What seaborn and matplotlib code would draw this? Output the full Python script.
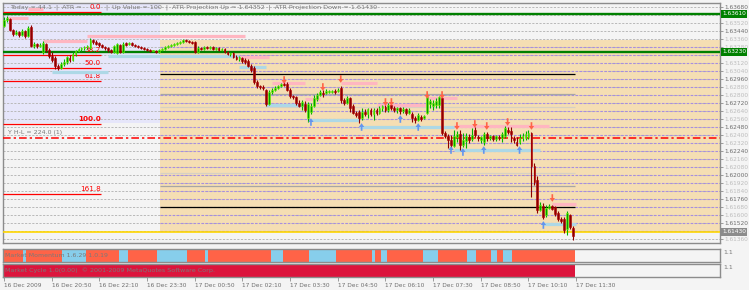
import numpy as np
import pandas as pd
import matplotlib
matplotlib.use("Agg")
import matplotlib.pyplot as plt
from matplotlib.path import Path
from matplotlib import transforms
import seaborn as sns

# ---------------- data (GBPUSD-like M5 candles) ----------------
O = [1.6349,1.6355,1.6356,1.6345,1.6341,1.6343,1.6340,1.6344,1.6339,1.6348,
     1.6329,1.6331,1.6329,1.6323,1.6331,1.6325,1.6319,1.6317,1.6309,1.6307,
     1.6311,1.6313,1.6317,1.6315,1.6321,1.6324,1.6326,1.6327,1.6328,1.6327,
     1.6335,1.6333,1.6332,1.6330,1.6328,1.6327,1.6325,1.6323,1.6322,1.6330,
     1.6323,1.6332,1.6331,1.6332,1.6330,1.6329,1.6328,1.6327,1.6326,1.6325,
     1.6324,1.6324,1.6323,1.6325,1.6326,1.6328,1.6329,1.6330,1.6331,1.6332,
     1.6333,1.6335,1.6334,1.6333,1.6333,1.6323,1.6327,1.6326,1.6328,1.6327,
     1.6328,1.6326,1.6327,1.6325,1.6326,1.6323,1.6321,1.6322,1.6318,1.6316,
     1.6317,1.6315,1.6314,1.6309,1.6307,1.6293,1.6289,1.6288,1.6285,1.6271,
     1.6283,1.6285,1.6287,1.6289,1.6291,1.6291,1.6285,1.6279,1.6278,1.6272,
     1.6269,1.6271,1.6257,1.6263,1.6269,1.6276,1.6280,1.6282,1.6282,1.6283,
     1.6283,1.6284,1.6284,1.6287,1.6275,1.6272,1.6277,1.6269,1.6262,1.6263,
     1.6257,1.6263,1.6261,1.6265,1.6261,1.6265,1.6262,1.6267,1.6268,1.6265,
     1.6270,1.6267,1.6265,1.6267,1.6264,1.6266,1.6262,1.6261,1.6257,1.6255,
     1.6258,1.6257,1.6262,1.6271,1.6269,1.6270,1.6270,1.6277,1.6242,1.6239,
     1.6235,1.6229,1.6238,1.6241,1.6230,1.6234,1.6238,1.6236,1.6245,1.6238,
     1.6235,1.6233,1.6241,1.6237,1.6239,1.6236,1.6238,1.6237,1.6239,1.6245,
     1.6244,1.6237,1.6233,1.6233,1.6237,1.6237,1.6238,1.6242,1.6209,1.6195,
     1.6165,1.6169,1.6160,1.6167,1.6169,1.6168,1.6162,1.6156,1.6156,1.6146,
     1.6160,1.6147]
C = [1.6355,1.6357,1.6345,1.6341,1.6343,1.6340,1.6344,1.6339,1.6347,1.6329,
     1.6331,1.6329,1.6330,1.6332,1.6325,1.6319,1.6315,1.6309,1.6307,1.6311,
     1.6313,1.6318,1.6315,1.6321,1.6324,1.6326,1.6327,1.6328,1.6329,1.6335,
     1.6333,1.6331,1.6330,1.6328,1.6327,1.6325,1.6323,1.6329,1.6331,1.6323,
     1.6331,1.6330,1.6332,1.6330,1.6329,1.6328,1.6327,1.6326,1.6325,1.6324,
     1.6324,1.6323,1.6325,1.6326,1.6328,1.6329,1.6330,1.6331,1.6332,1.6333,
     1.6335,1.6334,1.6333,1.6332,1.6323,1.6327,1.6326,1.6328,1.6327,1.6328,
     1.6326,1.6327,1.6325,1.6326,1.6323,1.6321,1.6322,1.6318,1.6316,1.6318,
     1.6314,1.6313,1.6309,1.6305,1.6293,1.6289,1.6288,1.6287,1.6271,1.6283,
     1.6285,1.6287,1.6289,1.6291,1.6290,1.6285,1.6279,1.6278,1.6272,1.6269,
     1.6273,1.6265,1.6271,1.6269,1.6277,1.6280,1.6283,1.6281,1.6284,1.6283,
     1.6284,1.6283,1.6285,1.6275,1.6272,1.6277,1.6267,1.6262,1.6260,1.6257,
     1.6263,1.6261,1.6266,1.6261,1.6265,1.6262,1.6267,1.6269,1.6265,1.6270,
     1.6267,1.6265,1.6267,1.6264,1.6266,1.6262,1.6265,1.6257,1.6255,1.6260,
     1.6256,1.6259,1.6278,1.6274,1.6272,1.6274,1.6278,1.6242,1.6239,1.6235,
     1.6230,1.6239,1.6241,1.6230,1.6235,1.6239,1.6235,1.6240,1.6240,1.6237,
     1.6238,1.6241,1.6237,1.6239,1.6236,1.6239,1.6237,1.6241,1.6247,1.6243,
     1.6241,1.6235,1.6230,1.6237,1.6239,1.6241,1.6242,1.6209,1.6193,1.6165,
     1.6170,1.6158,1.6167,1.6169,1.6166,1.6161,1.6156,1.6154,1.6145,1.6162,
     1.6148,1.6139]
H = [1.6358,1.6359,1.6357,1.6346,1.6345,1.6344,1.6346,1.6345,1.6349,1.6350,
     1.6333,1.6332,1.6332,1.6334,1.6332,1.6327,1.6323,1.6319,1.6311,1.6313,
     1.6316,1.6319,1.6320,1.6323,1.6325,1.6327,1.6328,1.6329,1.6330,1.6337,
     1.6336,1.6335,1.6333,1.6331,1.6329,1.6328,1.6326,1.6330,1.6332,1.6331,
     1.6333,1.6333,1.6333,1.6333,1.6331,1.6330,1.6329,1.6328,1.6327,1.6326,
     1.6325,1.6325,1.6326,1.6327,1.6329,1.6330,1.6331,1.6332,1.6333,1.6334,
     1.6336,1.6336,1.6335,1.6334,1.6334,1.6329,1.6328,1.6329,1.6329,1.6329,
     1.6329,1.6328,1.6328,1.6327,1.6327,1.6324,1.6323,1.6323,1.6320,1.6319,
     1.6318,1.6317,1.6316,1.6311,1.6309,1.6295,1.6290,1.6290,1.6286,1.6285,
     1.6287,1.6289,1.6290,1.6292,1.6293,1.6293,1.6287,1.6280,1.6279,1.6275,
     1.6275,1.6274,1.6273,1.6272,1.6280,1.6282,1.6285,1.6285,1.6286,1.6285,
     1.6285,1.6286,1.6287,1.6289,1.6277,1.6279,1.6278,1.6271,1.6264,1.6265,
     1.6267,1.6266,1.6267,1.6267,1.6267,1.6267,1.6269,1.6270,1.6270,1.6272,
     1.6271,1.6269,1.6268,1.6268,1.6268,1.6267,1.6267,1.6263,1.6259,1.6262,
     1.6260,1.6260,1.6282,1.6276,1.6275,1.6277,1.6279,1.6278,1.6244,1.6241,
     1.6240,1.6245,1.6244,1.6245,1.6242,1.6242,1.6241,1.6247,1.6248,1.6240,
     1.6239,1.6243,1.6243,1.6240,1.6240,1.6240,1.6240,1.6243,1.6249,1.6248,
     1.6248,1.6239,1.6238,1.6241,1.6242,1.6244,1.6245,1.6243,1.6212,1.6199,
     1.6173,1.6172,1.6170,1.6171,1.6170,1.6169,1.6164,1.6158,1.6158,1.6164,
     1.6161,1.6149]
L = [1.6348,1.6353,1.6344,1.6339,1.6340,1.6338,1.6339,1.6337,1.6338,1.6328,
     1.6327,1.6327,1.6328,1.6321,1.6323,1.6317,1.6313,1.6306,1.6305,1.6306,
     1.6309,1.6311,1.6313,1.6314,1.6319,1.6323,1.6324,1.6325,1.6326,1.6326,
     1.6331,1.6330,1.6328,1.6327,1.6325,1.6323,1.6322,1.6322,1.6321,1.6322,
     1.6322,1.6329,1.6330,1.6329,1.6328,1.6327,1.6326,1.6325,1.6324,1.6323,
     1.6323,1.6322,1.6322,1.6324,1.6325,1.6327,1.6328,1.6329,1.6330,1.6331,
     1.6332,1.6333,1.6332,1.6331,1.6322,1.6322,1.6325,1.6325,1.6326,1.6326,
     1.6325,1.6325,1.6324,1.6324,1.6322,1.6320,1.6319,1.6317,1.6315,1.6314,
     1.6312,1.6311,1.6308,1.6303,1.6291,1.6287,1.6286,1.6285,1.6269,1.6270,
     1.6281,1.6284,1.6286,1.6288,1.6289,1.6284,1.6277,1.6276,1.6270,1.6268,
     1.6265,1.6263,1.6253,1.6261,1.6268,1.6274,1.6279,1.6278,1.6281,1.6282,
     1.6282,1.6281,1.6283,1.6272,1.6270,1.6271,1.6263,1.6261,1.6258,1.6252,
     1.6255,1.6259,1.6257,1.6259,1.6255,1.6260,1.6261,1.6264,1.6263,1.6263,
     1.6265,1.6263,1.6262,1.6261,1.6262,1.6260,1.6261,1.6253,1.6252,1.6254,
     1.6254,1.6256,1.6261,1.6267,1.6265,1.6267,1.6267,1.6240,1.6237,1.6227,
     1.6227,1.6228,1.6233,1.6225,1.6228,1.6227,1.6232,1.6234,1.6238,1.6234,
     1.6232,1.6230,1.6234,1.6235,1.6234,1.6234,1.6235,1.6233,1.6237,1.6241,
     1.6233,1.6232,1.6229,1.6231,1.6234,1.6235,1.6236,1.6178,1.6190,1.6162,
     1.6164,1.6156,1.6158,1.6166,1.6165,1.6159,1.6154,1.6152,1.6142,1.6140,
     1.6146,1.6135]

# time axis
tick_bars = [0, 16, 32, 48, 64, 80, 96, 112, 128, 144, 160, 176, 192]
tick_labels = ["16 Dec 2009", "16 Dec 20:50", "16 Dec 22:10", "16 Dec 23:30",
               "17 Dec 00:50", "17 Dec 02:10", "17 Dec 03:30", "17 Dec 04:50",
               "17 Dec 06:10", "17 Dec 07:30", "17 Dec 08:50", "17 Dec 10:10",
               "17 Dec 11:30"]

# horizontal levels
green_levels = [1.6361, 1.6323]
black_levels = [1.6301, 1.6168]
gray_levels = [1.6281, 1.6189]
light_levels = [1.6268, 1.6202]
yesterday_close = 1.6237
atr_down = 1.6143
atr_up_box = 1.6335
asia_low = 1.6252
session_start = 52.5

fib_prices = [1.6363, 1.6320, 1.6307, 1.6294, 1.6251, 1.6181]
fib_labels = ["0.0", "38.2", "50.0", "61.8", "100.0", "161.8"]

# resistance (pink) and support (light blue) zones: start bar, end bar, price
res_start = [1, 8, 13, 28, 79, 90, 101, 113, 125, 142, 151, 184]
res_end = [8, 13, 28, 81, 89, 101, 106, 125, 142, 152, 183, 192]
res_price = [1.6357, 1.6366, 1.6334, 1.6339, 1.6318, 1.6292, 1.6276, 1.6292,
             1.6270, 1.6277, 1.6249, 1.6171]
sup_start = [16, 35, 79, 88, 103, 119, 151, 181]
sup_end = [35, 79, 88, 101, 119, 151, 180, 192]
sup_price = [1.6303, 1.6319, 1.6308, 1.6270, 1.6255, 1.6248, 1.6225, 1.6151]

# fractal arrows
dn_idx = [94, 107, 113, 128, 130, 142, 147, 152, 158, 162, 169, 177, 184]
dn_price = [1.6295, 1.6288, 1.6296, 1.6273, 1.6273, 1.6280, 1.6280, 1.6249,
            1.6251, 1.6249, 1.6253, 1.6249, 1.6177]
up_idx = [103, 120, 133, 139, 150, 154, 161, 173, 181]
up_price = [1.6253, 1.6248, 1.6256, 1.6248, 1.6225, 1.6223, 1.6225, 1.6225, 1.6150]

# market momentum runs
mom_lengths = [7, 1, 12, 8, 11, 3, 10, 10, 6, 1, 21, 4, 9, 9, 12, 1, 2, 2, 12,
               5, 10, 3, 5, 2, 2, 3, 21]
mom_states = ["dn", "up"] * 13 + ["dn"]

# header texts
header_left = "Today = 44.1  |  ATR ="
header_right = "|  Up Value = 100  |  ATR Projection Up = 1.64352  |  ATR Projection Down = 1.61430"

# ---------------- style ----------------
sns.set_theme(style="white")
plt.rcParams['font.family'] = ['DejaVu Sans']
BG = '#f4f4f4'
GRAYTXT = '#7a7a7a'
FRAME = '#8c8c8c'

fig = plt.figure(figsize=(7.49, 2.90), dpi=100, facecolor=BG)
FW, FH = 749, 290


def rect(x0, y0, x1, y1):
    return [x0 / FW, 1 - y1 / FH, (x1 - x0) / FW, (y1 - y0) / FH]


ax = fig.add_axes(rect(3, 3, 720, 243))
ax2 = fig.add_axes(rect(3, 249, 720, 262))
ax3 = fig.add_axes(rect(3, 264, 720, 277))
X0, X1 = -0.34, 240.27
for a in (ax, ax2, ax3):
    a.set_xlim(X0, X1)
    a.set_facecolor(BG)
    for s in a.spines.values():
        s.set_color(FRAME)
        s.set_linewidth(1.0)
ax.set_ylim(1.6132, 1.6372)

# background zones
ax.fill_between([X0, session_start], asia_low, 1.6372, color='#e6e6fa', lw=0, zorder=0)
ax.fill_between([session_start, X1], atr_down, atr_up_box, color='#f5deb3', lw=0, zorder=0)

# dashed grid
grid = 1.6368 - 0.0008 * np.arange(30)
dash = (0, (2.2, 1.5))
for g in grid:
    ax.hlines(g, X0, X1, color='#b9b9b9', ls=dash, lw=0.7, zorder=1)
    if atr_down - 1e-6 <= g <= atr_up_box + 1e-6:
        ax.hlines(g, session_start, X1, color='#a88de0', ls=dash, lw=0.8, zorder=1)

# level lines
for p in green_levels:
    ax.hlines(p, X0, X1, color='#008000', lw=1.7, zorder=3)
for p in black_levels:
    ax.hlines(p, session_start, 191.5, color='#000000', lw=0.9, zorder=3)
for p in gray_levels:
    ax.hlines(p, session_start, 191.5, color='#a6a6a6', lw=0.9, zorder=2)
for p in light_levels:
    ax.hlines(p, session_start, 191.5, color='#d6d0c4', lw=0.9, zorder=2)
ax.hlines(yesterday_close, X0, X1, color='#ff0000', lw=1.1, ls=(0, (5, 2, 1.5, 2)), zorder=3)
ax.hlines(atr_down, X0, X1, color='#ffd700', lw=1.2, zorder=3)

# fibonacci
for p, lab in zip(fib_prices, fib_labels):
    ax.hlines(p, X0, 32.5, color='#ff0000', lw=0.9, zorder=3)
    ax.text(32.5, p + 0.00015, lab, color='#ff0000', fontsize=5.2, ha='right',
            va='bottom', zorder=4, fontweight='bold' if lab == "100.0" else 'normal')

# zones
for s, e, p in zip(res_start, res_end, res_price):
    ax.hlines(p, s, e, color='#ffb6c1', lw=2.3, zorder=4)
for s, e, p in zip(sup_start, sup_end, sup_price):
    ax.hlines(p, s, e, color='#add8e6', lw=2.3, zorder=4)

# candles
df = pd.DataFrame(dict(o=O, h=H, l=L, c=C))
df['i'] = np.arange(len(df))
bull = (df.c >= df.o).values
ax.vlines(df.i, df.l, df.h, colors=np.where(bull, '#00b000', '#8b0000'), lw=0.8, zorder=5)
body_bot = np.minimum(df.o, df.c)
body_h = np.maximum((df.c - df.o).abs(), 0.00008)
ax.bar(df.i, body_h, bottom=body_bot, width=0.62,
       color=np.where(bull, '#00a000', '#8b0000'),
       edgecolor=np.where(bull, '#7cfc00', '#b40000'), lw=0.4, zorder=6)

# arrows
codes = [Path.MOVETO] + [Path.LINETO] * 6 + [Path.CLOSEPOLY]
dn_verts = [(-0.22, 1.0), (0.22, 1.0), (0.22, 0.0), (0.7, 0.0), (0, -1.0),
            (-0.7, 0.0), (-0.22, 0.0), (-0.22, 1.0)]
up_verts = [(x, -y) for x, y in dn_verts]
sns.scatterplot(x=dn_idx, y=dn_price, marker=Path(dn_verts, codes), s=30,
                color='#ff6347', linewidth=0, edgecolor='none', ax=ax, zorder=8, legend=False)
sns.scatterplot(x=up_idx, y=up_price, marker=Path(up_verts, codes), s=30,
                color='#6495ed', linewidth=0, edgecolor='none', ax=ax, zorder=8, legend=False)

# texts
ax.text(0.0098, 0.983, header_left, transform=ax.transAxes, fontsize=4.6,
        color=GRAYTXT, va='center', ha='left', zorder=9)
ax.text((106 - 3) / 717, 0.983, header_right, transform=ax.transAxes, fontsize=4.6,
        color=GRAYTXT, va='center', ha='left', zorder=9)
ax.text(1.3, yesterday_close + 0.00025, "Y H-L = 224.0 (1)", fontsize=4.5,
        color=GRAYTXT, va='bottom', ha='left', zorder=9)

# right price axis
ax.yaxis.tick_right()
highlight = green_levels + [atr_down]
keep = [g for g in grid if min(abs(g - h) for h in highlight) > 0.00045]
ax.set_yticks(keep)
ax.set_yticklabels([f"{g:.5f}" for g in keep])
for g, t in zip(keep, ax.get_yticklabels()):
    k = int(round((1.6368 - g) / 0.0008))
    t.set_color('#6e6e6e' if k % 3 == 0 else '#bdbdbd')
ax.tick_params(axis='y', length=2, width=0.6, color=FRAME, labelsize=4.2, pad=1)
ax.tick_params(axis='x', bottom=False, labelbottom=False)
trans = transforms.blended_transform_factory(ax.transAxes, ax.transData)
for p in green_levels:
    ax.text(1.003, p, f"{p:.5f}", transform=trans, color='white', fontsize=4.2,
            va='center', ha='left', clip_on=False, zorder=10,
            bbox=dict(facecolor='#008000', edgecolor='none', pad=0.8))
ax.text(1.003, atr_down, f"{atr_down:.5f}", transform=trans, color='white', fontsize=4.2,
        va='center', ha='left', clip_on=False, zorder=10,
        bbox=dict(facecolor='#8c8c8c', edgecolor='none', pad=0.8))

# momentum panel
idx = np.arange(len(O))
mom = np.repeat(mom_states, mom_lengths)
ax2.bar(idx, 1, width=1.0, color=np.where(mom == "up", '#87ceeb', '#ff6347'), lw=0)
ax2.set_ylim(0, 1)
ax2.set_yticks([])
ax2.tick_params(axis='x', bottom=False, labelbottom=False)
ax2.text(0.003, 0.5, "Market Momentum 1.6.29 1.0.19", transform=ax2.transAxes,
         fontsize=4.5, color=GRAYTXT, va='center', ha='left')
ax2.text(1.004, 0.75, "1.1", transform=ax2.transAxes, fontsize=4.5, color=GRAYTXT,
         va='center', ha='left')

# cycle panel
ax3.bar(idx, 1, width=1.0, color='#dc143c', lw=0)
ax3.set_ylim(0, 1)
ax3.set_yticks([])
ax3.text(0.003, 0.5, "Market Cycle 1.0(0.00)  \u00a9 2001-2009 MetaQuotes Software Corp.",
         transform=ax3.transAxes, fontsize=4.6, color=GRAYTXT, va='center', ha='left')
ax3.text(1.004, 0.7, "1.1", transform=ax3.transAxes, fontsize=4.5, color=GRAYTXT,
         va='center', ha='left')
ax3.set_xticks(tick_bars)
ax3.set_xticklabels(tick_labels, ha='left')
ax3.tick_params(axis='x', bottom=True, length=3, width=0.6, color=FRAME,
                labelsize=4.2, labelcolor='#6e6e6e', pad=1)

fig.savefig("out.png", dpi=100, facecolor=BG)
